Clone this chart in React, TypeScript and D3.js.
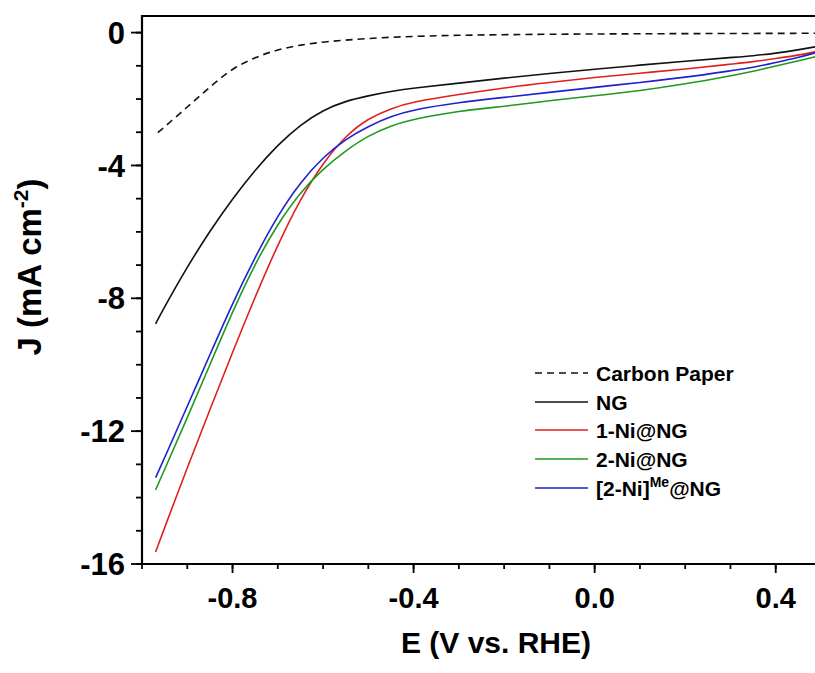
import React from "react";
import * as d3 from "d3";

const E_CP = [-0.965, -0.93, -0.9, -0.87, -0.84, -0.8, -0.75, -0.7, -0.65, -0.6, -0.5, -0.4, -0.3, -0.2, 0.0, 0.2, 0.49];
const J_CP = [-3.01, -2.6, -2.24, -1.88, -1.52, -1.08, -0.74, -0.51, -0.37, -0.28, -0.17, -0.11, -0.08, -0.06, -0.04, -0.03, -0.02];

const E_GRID = [-0.97, -0.95, -0.9, -0.85, -0.8, -0.75, -0.7, -0.65, -0.6, -0.55, -0.5, -0.45, -0.4, -0.3, -0.2, -0.1, 0.0, 0.1, 0.2, 0.3, 0.35, 0.4, 0.45, 0.49];
const J_NG = [-8.77, -8.25, -7.05, -5.97, -5.0, -4.13, -3.38, -2.77, -2.33, -2.06, -1.9, -1.77, -1.67, -1.52, -1.37, -1.23, -1.1, -0.98, -0.86, -0.75, -0.7, -0.62, -0.52, -0.42];
const J_1NI = [-15.64, -14.9, -13.1, -11.35, -9.62, -7.95, -6.38, -5.0, -3.92, -3.1, -2.58, -2.28, -2.08, -1.86, -1.66, -1.5, -1.35, -1.22, -1.1, -0.95, -0.88, -0.78, -0.68, -0.57];
const J_2NI = [-13.77, -13.15, -11.6, -10.0, -8.4, -6.95, -5.75, -4.8, -4.1, -3.55, -3.1, -2.8, -2.6, -2.36, -2.22, -2.05, -1.9, -1.75, -1.55, -1.3, -1.17, -1.0, -0.85, -0.72];
const J_2NIME = [-13.4, -12.8, -11.25, -9.7, -8.15, -6.75, -5.5, -4.5, -3.75, -3.2, -2.82, -2.52, -2.32, -2.1, -1.95, -1.8, -1.65, -1.5, -1.35, -1.15, -1.05, -0.9, -0.75, -0.6];

const X_TICKS = [-0.8, -0.4, 0.0, 0.4];
const X_MINOR = [-1.0, -0.9, -0.8, -0.7, -0.6, -0.5, -0.4, -0.3, -0.2, -0.1, 0.0, 0.1, 0.2, 0.3, 0.4, 0.5];
const Y_TICKS = [0, -4, -8, -12, -16];
const Y_MINOR = [0, -1, -2, -3, -4, -5, -6, -7, -8, -9, -10, -11, -12, -13, -14, -15, -16];

const SERIES = [
  { name: "Carbon Paper", E: E_CP, J: J_CP, color: "#111111", dash: "7,5" },
  { name: "NG", E: E_GRID, J: J_NG, color: "#111111", dash: null },
  { name: "1-Ni@NG", E: E_GRID, J: J_1NI, color: "#e02020", dash: null },
  { name: "2-Ni@NG", E: E_GRID, J: J_2NI, color: "#1f9a1f", dash: null },
  { name: "[2-Ni]Me@NG", E: E_GRID, J: J_2NIME, color: "#2020d0", dash: null },
];

const FONT = "'Liberation Sans', Arial, Helvetica, sans-serif";
const fmtX = (v: number) => d3.format(".1f")(v).replace("\u2212", "-");

export default function App() {
  const W = 815, H = 673;
  const L = 142, T = 16, R = 821, B = 564;
  const x = d3.scaleLinear().domain([-1.0, 0.5]).range([L, R]);
  const y = d3.scaleLinear().domain([-16, 0.5]).range([B, T]);
  const line = d3
    .line<[number, number]>()
    .x((d) => x(d[0]))
    .y((d) => y(d[1]))
    .curve(d3.curveBasis);

  const legX0 = 535, legX1 = 588, legTx = 596;
  const legY = [373, 402, 430, 459, 488];

  return (
    <svg width={W} height={H} style={{ position: "absolute", left: 0, top: 0, background: "#fff" }} fontFamily={FONT}>
      <defs>
        <clipPath id="plotclip">
          <rect x={L} y={T} width={R - L} height={B - T} />
        </clipPath>
      </defs>
      <rect x={0} y={0} width={W} height={H} fill="#fff" />
      <g clipPath="url(#plotclip)">
        {SERIES.map((s) => (
          <path
            key={s.name}
            d={line(s.E.map((e, i) => [e, s.J[i]] as [number, number])) || ""}
            fill="none"
            stroke={s.color}
            strokeWidth={1.6}
            strokeDasharray={s.dash || undefined}
          />
        ))}
      </g>
      {/* frame */}
      <line x1={L} x2={R} y1={T} y2={T} stroke="#000" strokeWidth={2.2} />
      <line x1={L} x2={L} y1={T - 1} y2={B + 1} stroke="#000" strokeWidth={2.2} />
      <line x1={L - 1} x2={R} y1={B} y2={B} stroke="#000" strokeWidth={2.2} />
      {/* y ticks */}
      {Y_MINOR.map((v) => (
        <line key={"ym" + v} x1={L - 6} x2={L} y1={y(v)} y2={y(v)} stroke="#000" strokeWidth={1.8} />
      ))}
      {Y_TICKS.map((v) => (
        <g key={"y" + v}>
          <line x1={L - 11} x2={L} y1={y(v)} y2={y(v)} stroke="#000" strokeWidth={1.8} />
          <text x={L - 17} y={y(v)} dy="0.36em" textAnchor="end" fontSize={31} fontWeight="bold">
            {String(v)}
          </text>
        </g>
      ))}
      {/* x ticks */}
      {X_MINOR.map((v) => (
        <line key={"xm" + v} x1={x(v)} x2={x(v)} y1={B} y2={B + 5} stroke="#000" strokeWidth={1.8} />
      ))}
      {X_TICKS.map((v) => (
        <g key={"x" + v}>
          <line x1={x(v)} x2={x(v)} y1={B} y2={B + 9} stroke="#000" strokeWidth={1.8} />
          <text x={x(v)} y={608} textAnchor="middle" fontSize={29} fontWeight="bold">
            {fmtX(v)}
          </text>
        </g>
      ))}
      {/* axis titles */}
      <text x={496} y={653} textAnchor="middle" fontSize={30} fontWeight="bold">
        E (V vs. RHE)
      </text>
      <text transform="translate(41,267) rotate(-90)" textAnchor="middle" fontSize={33} fontWeight="bold">
        J (mA cm
        <tspan fontSize={21} dy={-13}>-2</tspan>
        <tspan dy={13}>)</tspan>
      </text>
      {/* legend */}
      {SERIES.map((s, i) => (
        <g key={"leg" + s.name}>
          <line
            x1={legX0}
            x2={legX1}
            y1={legY[i]}
            y2={legY[i]}
            stroke={s.color}
            strokeWidth={1.6}
            strokeDasharray={s.dash || undefined}
          />
          <text x={legTx} y={legY[i]} dy="0.36em" fontSize={21} fontWeight="bold">
            {i === 4 ? (
              <>
                [2-Ni]
                <tspan fontSize={14} dy={-9}>Me</tspan>
                <tspan dy={9}>@NG</tspan>
              </>
            ) : (
              s.name
            )}
          </text>
        </g>
      ))}
    </svg>
  );
}
